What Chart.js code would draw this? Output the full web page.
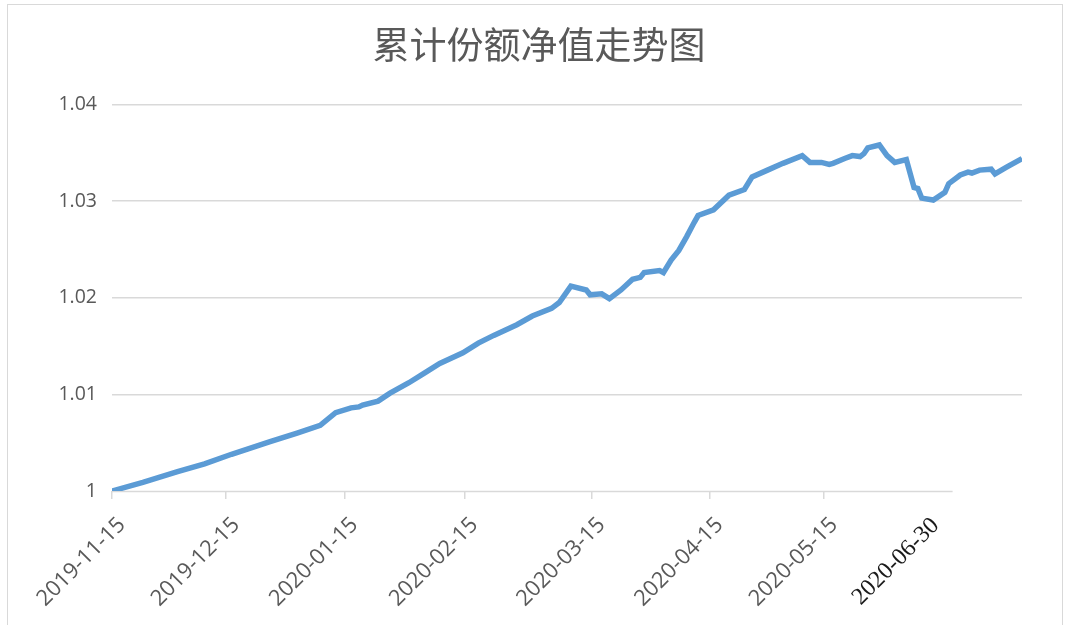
<!DOCTYPE html>
<html>
<head>
<meta charset="utf-8">
<script src="https://cdn.jsdelivr.net/npm/chart.js@4.4.0/dist/chart.umd.min.js"></script>
<style>
  html, body { margin: 0; padding: 0; background: #fff; }
  #wrap { position: relative; width: 1065px; height: 625px; }
  #frame { position: absolute; left: 7px; top: 4px; width: 1054px; height: 640px; border: 1px solid #d9d9d9; pointer-events: none; }
</style>
</head>
<body>
<div id="wrap">
  <canvas id="navChart" width="1065" height="625"></canvas>
  <div id="frame"></div>
</div>
<script>
// x = position along the date axis (2019-11-15 = 0), y = cumulative NAV
const navX = [0, 8, 17, 24, 31, 41, 48, 54, 58, 62, 64, 65, 69, 72, 77, 81, 85, 91, 95, 99,
  105, 109, 114, 116, 119, 123, 124, 127, 129, 132, 135, 137, 138, 142, 143, 145, 147, 149, 151, 152,
  156, 160, 164, 166, 170, 174, 179, 181, 184, 186, 187, 190, 192, 194, 195, 196, 199, 201, 203, 206,
  208, 209, 210, 213, 216, 217, 220, 222, 223, 225, 228, 229, 232, 236];
const navY = [1.0000, 1.0009, 1.0020, 1.0028, 1.0038, 1.0051, 1.0060, 1.0068, 1.0081, 1.0086,
  1.0087, 1.0089, 1.0093, 1.0101, 1.0112, 1.0122, 1.0132, 1.0143, 1.0153, 1.0161,
  1.0172, 1.0181, 1.0189, 1.0195, 1.0212, 1.0208, 1.0203, 1.0204, 1.0199, 1.0208,
  1.0219, 1.0221, 1.0226, 1.0228, 1.0226, 1.0239, 1.0249, 1.0263, 1.0278, 1.0285,
  1.0291, 1.0306, 1.0312, 1.0325, 1.0332, 1.0339, 1.0347, 1.0340, 1.0340, 1.0338,
  1.0339, 1.0344, 1.0347, 1.0346, 1.0349, 1.0355, 1.0358, 1.0347, 1.0340, 1.0343,
  1.0314, 1.0313, 1.0303, 1.0301, 1.0309, 1.0318, 1.0327, 1.0330, 1.0329, 1.0332,
  1.0333, 1.0328, 1.0335, 1.0344];

const xTickPos = [0, 29.6, 60.3, 91.4, 124.4, 155, 184.7, 211];
const xTickLabels = ['2019-11-15', '2019-12-15', '2020-01-15', '2020-02-15',
  '2020-03-15', '2020-04-15', '2020-05-15', '2020-06-30'];
const axisLineEnd = 218;

const points = navX.map((x, i) => ({ x: x, y: navY[i] }));

// bottom axis line stops short of the right edge, as in the original
const axisLine = {
  id: 'axisLine',
  beforeDatasetsDraw(chart) {
    const c = chart.ctx, xs = chart.scales.x, ys = chart.scales.y;
    const yy = Math.round(ys.getPixelForValue(1)) + 0.5;
    c.save();
    c.strokeStyle = '#d9d9d9';
    c.lineWidth = 1.5;
    c.beginPath();
    c.moveTo(xs.left, yy);
    c.lineTo(xs.getPixelForValue(axisLineEnd), yy);
    c.stroke();
    c.restore();
  }
};

new Chart(document.getElementById('navChart'), {
  type: 'line',
  data: {
    datasets: [{
      data: points,
      borderColor: '#5b9bd5',
      borderWidth: 5.5,
      pointRadius: 0,
      tension: 0,
      fill: false
    }]
  },
  options: {
    responsive: false,
    animation: false,
    layout: { padding: { left: 56, right: 43, top: 4, bottom: 4 } },
    plugins: {
      legend: { display: false },
      tooltip: { enabled: false },
      title: {
        display: true,
        text: '累计份额净值走势图',
        color: '#595959',
        font: { family: '"Noto Sans CJK SC", sans-serif', size: 37, weight: 'normal' },
        padding: { top: 19, bottom: 37 }
      }
    },
    scales: {
      x: {
        type: 'linear',
        min: 0,
        max: 236,
        afterBuildTicks(scale) {
          scale.ticks = xTickPos.map(v => ({ value: v }));
        },
        afterFit(scale) { scale.height = 130; },
        border: { display: false },
        grid: {
          drawOnChartArea: false,
          drawTicks: true,
          tickLength: 8,
          color: ctx => ctx.index === 7 ? 'rgba(0,0,0,0)' : '#d9d9d9',
          lineWidth: 1.5
        },
        ticks: {
          autoSkip: false,
          maxRotation: 45,
          minRotation: 45,
          padding: 13,
          labelOffset: 10,
          color: ctx => ctx.index === 7 ? '#1a1a1a' : '#595959',
          font: ctx => ctx.index === 7
            ? { family: '"Liberation Serif", "DejaVu Serif", serif', size: 24 }
            : { family: '"Open Sans", "Liberation Sans", sans-serif', size: 22 },
          callback: (v, i) => xTickLabels[i]
        }
      },
      y: {
        min: 1,
        max: 1.04,
        afterFit(scale) { scale.width = 56; },
        border: { display: false },
        grid: {
          color: ctx => ctx.tick && ctx.tick.value === 1 ? 'rgba(0,0,0,0)' : '#d9d9d9',
          lineWidth: 1.5,
          drawTicks: false
        },
        ticks: {
          stepSize: 0.01,
          padding: 15,
          color: '#595959',
          font: { family: '"Open Sans", "Liberation Sans", sans-serif', size: 19.5 },
          callback: v => String(parseFloat(v.toFixed(2)))
        }
      }
    }
  },
  plugins: [axisLine]
});
</script>
</body>
</html>
